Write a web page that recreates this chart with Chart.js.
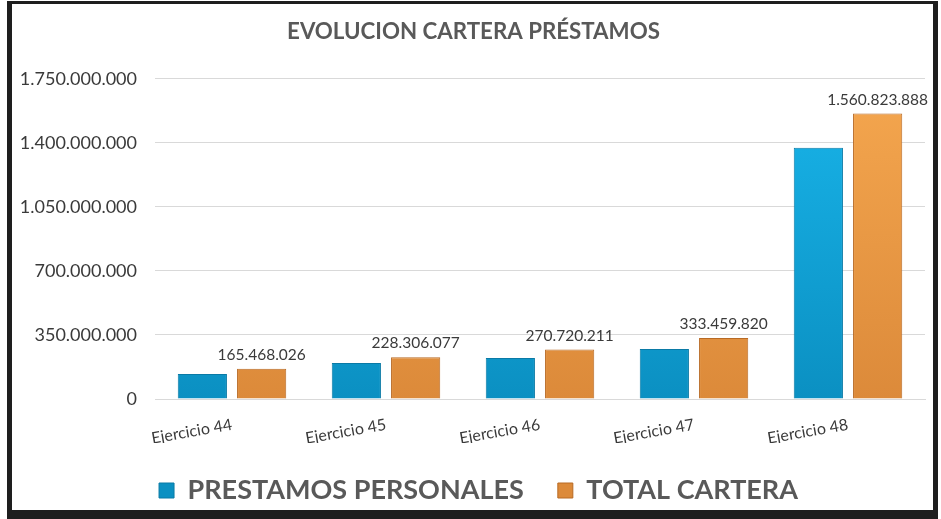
<!DOCTYPE html>
<html>
<head>
<meta charset="utf-8">
<script src="https://cdn.jsdelivr.net/npm/chart.js@4.4.1/dist/chart.umd.min.js"></script>
<style>
    html, body { margin: 0; padding: 0; background: #fff; }
    #chart { position: absolute; left: 12px; top: 4px; display: block; }
    #frame {
        position: absolute;
        left: 7px; top: 1px;
        width: 921px; height: 506px;
        border-style: solid;
        border-color: #1e1e1e;
        border-width: 3px 5px 9px 5px;
        pointer-events: none;
    }
</style>
</head>
<body>
<canvas id="chart" width="921" height="510"></canvas>
<div id="frame"></div>
<script>
// categorias y valores
const categorias = ['Ejercicio 44', 'Ejercicio 45', 'Ejercicio 46', 'Ejercicio 47', 'Ejercicio 48'];
const prestamosPersonales = [137000000, 197000000, 224000000, 273000000, 1373000000];
const totalCartera = [165468026, 228306077, 270720211, 333459820, 1560823888];
const yTicks = [0, 350000000, 700000000, 1050000000, 1400000000, 1750000000];

// formato con puntos de miles
function formatNum(v) {
    return String(Math.round(v)).replace(/\B(?=(\d{3})+(?!\d))/g, '.');
}

function gradiente(ctx, top, bottom) {
    const chart = ctx.chart;
    const area = chart.chartArea;
    if (!area) return top;
    const g = chart.ctx.createLinearGradient(0, area.top, 0, area.bottom);
    g.addColorStop(0, top);
    g.addColorStop(1, bottom);
    return g;
}

// etiquetas sobre las barras de total cartera
const etiquetas = {
    id: 'etiquetas',
    afterDatasetsDraw(chart) {
        const ctx = chart.ctx;
        const meta = chart.getDatasetMeta(1);
        ctx.save();
        ctx.font = '15.5px Lato, sans-serif';
        ctx.fillStyle = '#3a3a3a';
        ctx.textAlign = 'center';
        ctx.textBaseline = 'bottom';
        meta.data.forEach((bar, i) => {
            ctx.fillText(formatNum(totalCartera[i]), bar.x, bar.y - 6);
        });
        ctx.restore();
    }
};

// centra titulo y leyenda sobre el area del grafico, como en el original
const centrado = {
    id: 'centrado',
    afterLayout(chart) {
        chart.legend.left += 10;
        chart.legend.right += 10;
        chart.titleBlock.left += 5;
        chart.titleBlock.right += 5;
    }
};

new Chart(document.getElementById('chart'), {
    type: 'bar',
    data: {
        labels: categorias,
        datasets: [
            {
                label: 'PRESTAMOS PERSONALES',
                data: prestamosPersonales,
                backgroundColor: ctx => gradiente(ctx, '#19b5ea', '#0b90c2'),
                borderColor: '#0a7aa6',
                borderWidth: 1,
                barPercentage: 0.83,
                categoryPercentage: 0.77
            },
            {
                label: 'TOTAL CARTERA',
                data: totalCartera,
                backgroundColor: ctx => gradiente(ctx, '#f5a74f', '#dc8a3a'),
                borderColor: '#b86a24',
                borderWidth: 1,
                barPercentage: 0.83,
                categoryPercentage: 0.77
            }
        ]
    },
    options: {
        responsive: false,
        animation: false,
        layout: { padding: { left: 0, right: 8, top: 0, bottom: 0 } },
        plugins: {
            title: {
                display: true,
                text: 'EVOLUCION CARTERA PRÉSTAMOS',
                color: '#595959',
                font: { family: 'Lato, sans-serif', size: 22.3, weight: 'bold' },
                padding: { top: 14, bottom: 34 }
            },
            legend: {
                position: 'bottom',
                labels: {
                    color: '#595959',
                    font: { family: 'Lato, sans-serif', size: 27, weight: 'bold' },
                    boxWidth: 15,
                    boxHeight: 15,
                    padding: 34,
                    useBorderRadius: false
                }
            },
            tooltip: { enabled: false }
        },
        scales: {
            x: {
                grid: { display: false },
                border: { color: '#d9d9d9' },
                afterFit: scale => {
                    const lg = scale.chart.legend;
                    scale.height = 115 - (lg ? lg.height : 0);
                },
                ticks: {
                    color: '#3a3a3a',
                    padding: 8,
                    font: { family: 'Lato, sans-serif', size: 16 },
                    minRotation: 10,
                    maxRotation: 10
                }
            },
            y: {
                min: 0,
                max: 1750000000,
                afterBuildTicks: axis => { axis.ticks = yTicks.map(v => ({ value: v })); },
                afterFit: scale => { scale.width = 143; },
                grid: { color: '#d9d9d9', drawTicks: false },
                border: { display: false },
                ticks: {
                    color: '#3a3a3a',
                    padding: 18,
                    font: { family: 'Lato, sans-serif', size: 18 },
                    callback: v => formatNum(v)
                }
            }
        }
    },
    plugins: [etiquetas, centrado]
});
</script>
</body>
</html>
